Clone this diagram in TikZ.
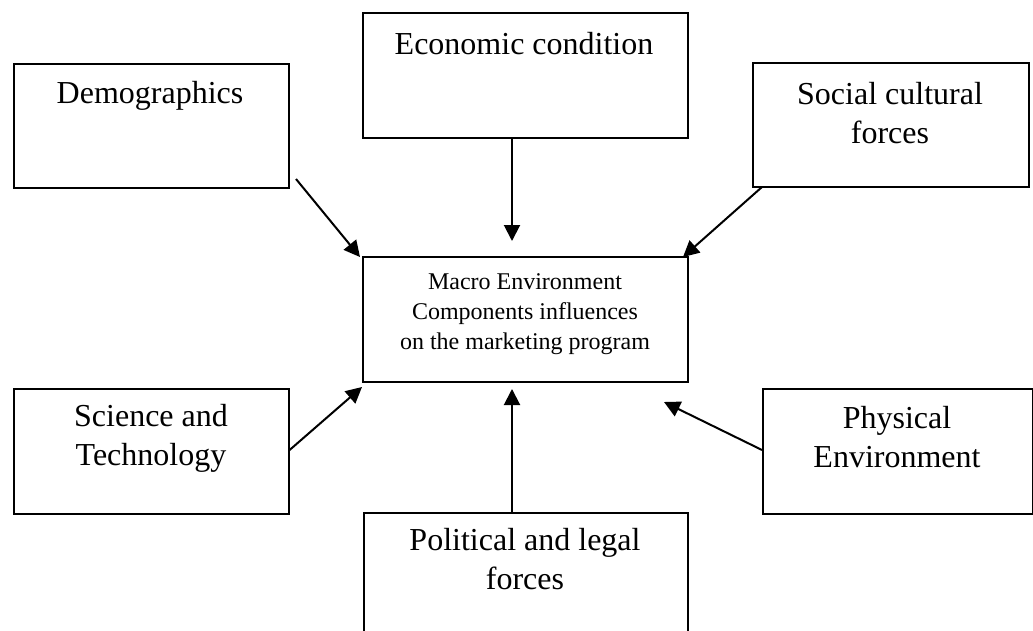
\documentclass[tikz,border=0pt]{standalone}
\usepackage{fontspec}
\setmainfont{Liberation Serif}
\usetikzlibrary{arrows.meta, positioning, calc}

\tikzset{
  macrobox/.style={draw, line width=1.6pt, rectangle, anchor=north west, inner sep=0pt},
  boxlabel/.style={align=center, font=\fontsize{32}{39}\selectfont},
  influence/.style={-{Triangle[length=16pt, width=16pt]}, line width=2pt}
}

\begin{document}
\begin{tikzpicture}[x=1pt, y=-1pt]
  \useasboundingbox (0,0) rectangle (1033,631);
  \clip (0,0) rectangle (1033,631);

  % outer boxes
  \node[macrobox, minimum width=275pt, minimum height=124pt] (demo) at (13,63) {};
  \node[macrobox, minimum width=325pt, minimum height=125pt] (econ) at (362,12) {};
  \node[macrobox, minimum width=276pt, minimum height=124pt] (social) at (752,62) {};
  \node[macrobox, minimum width=275pt, minimum height=125pt] (science) at (13,388) {};
  \node[macrobox, minimum width=270pt, minimum height=125pt] (physical) at (762,388) {};
  \node[macrobox, minimum width=324pt, minimum height=140pt] (political) at (363,512) {};

  % centre box
  \node[macrobox, minimum width=325pt, minimum height=125pt] (macro) at (362,256) {};

  % labels
  \node[boxlabel] (demotext) at (150,96) {Demographics};
  \node[boxlabel] (econtext) at (524,44) {Economic condition};
  \node[boxlabel] (socialtext) at (890,113) {Social cultural\\forces};
  \node[boxlabel] (sciencetext) at (151,438) {Science and\\Technology};
  \node[boxlabel] (physicaltext) at (897,437) {Physical\\Environment};
  \node[boxlabel] (politicaltext) at (525,559) {Political and legal\\forces};
  \node[align=center, font=\fontsize{24}{30}\selectfont] (macrotext) at (525,314)
    {Macro Environment\\Components influences\\on the marketing program};

  % arrow ends
  \coordinate (demoout) at (296,179);
  \coordinate (demoin) at (360,257);
  \coordinate (econin) at (512,241);
  \coordinate (socialout) at (762,187);
  \coordinate (socialin) at (683,257);
  \coordinate (sciencein) at (362,387);
  \coordinate (politicalin) at (512,389);
  \coordinate (physicalin) at (664,402);

  \draw[influence] (demoout) -- (demoin);
  \draw[influence] (econ.south -| econin) -- (econin);
  \draw[influence] (socialout) -- (socialin);
  \draw[influence] (science.east |- 0,450) -- (sciencein);
  \draw[influence] (political.north -| politicalin) -- (politicalin);
  \draw[influence] (physical.west |- 0,450) -- (physicalin);
\end{tikzpicture}
\end{document}
